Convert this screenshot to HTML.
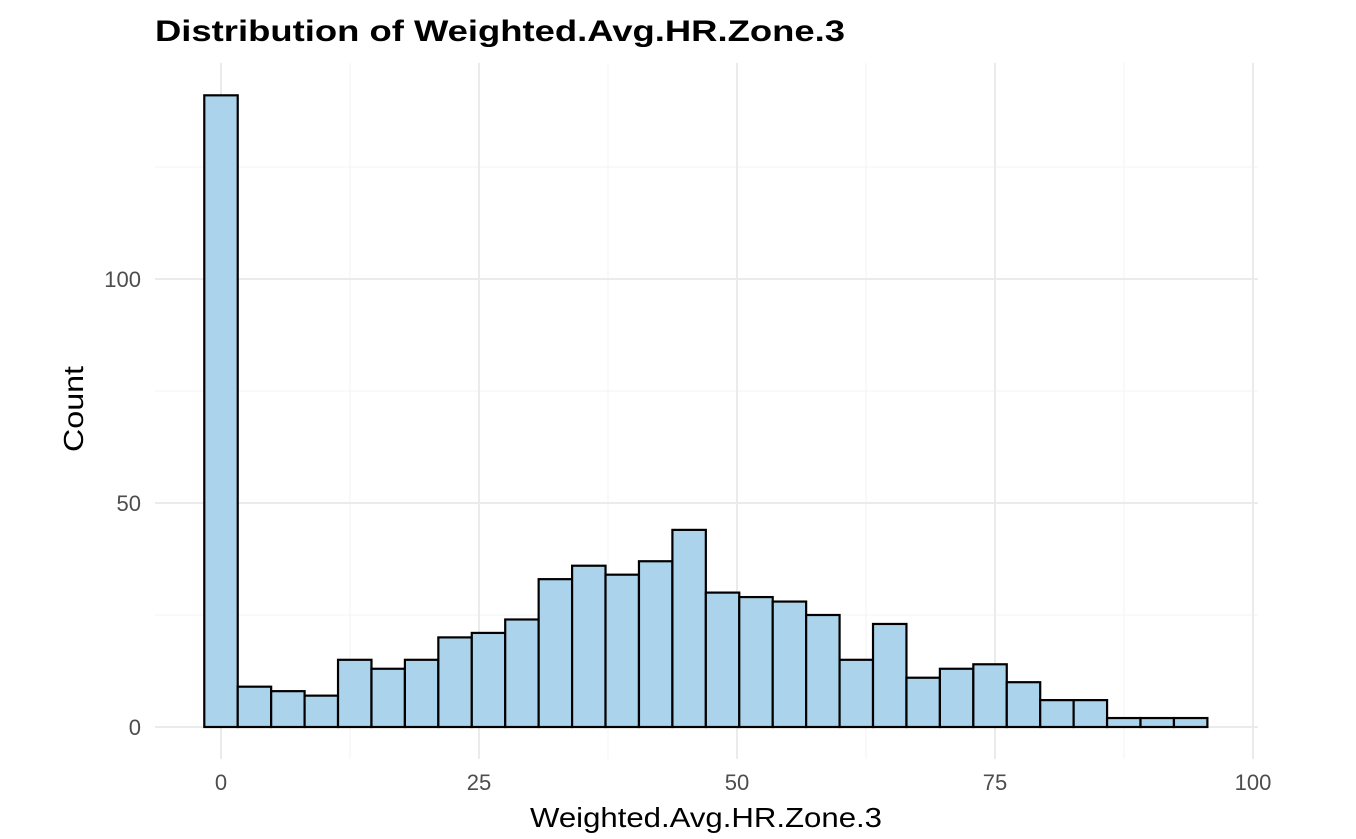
<!DOCTYPE html>
<html><head><meta charset="utf-8"><style>
body{margin:0;background:#fff;}
svg text{font-family:"Liberation Sans",Arial,sans-serif;}
</style></head><body>
<svg id="chart" width="1356" height="834">
<g id="grid"></g><g id="bars"></g><g id="axes"></g>
<text x="155" y="41" font-size="30" font-weight="bold" fill="#000" textLength="690" lengthAdjust="spacingAndGlyphs">Distribution of Weighted.Avg.HR.Zone.3</text>
<text x="530" y="827" font-size="28" fill="#000" textLength="352" lengthAdjust="spacingAndGlyphs">Weighted.Avg.HR.Zone.3</text>
<text transform="translate(83,452) rotate(-90)" font-size="28" fill="#000" textLength="86" lengthAdjust="spacingAndGlyphs">Count</text>
</svg>
<script>
const counts=[141,9,8,7,15,13,15,20,21,24,33,36,34,37,44,30,29,28,25,15,23,11,13,14,10,6,6,2,2,2];
const binStart=-1.62;
const binWidth=3.24;
const xTicks=[0,25,50,75,100];
const yTicks=[0,50,100];
const xMinor=[12.5,37.5,62.5,87.5];
const yMinor=[25,75,125];
const X=v=>221+v*10.32;
const Y=v=>727-v*4.48;
const NS="http://www.w3.org/2000/svg";
function mk(p,tag,a){const e=document.createElementNS(NS,tag);for(const k in a)e.setAttribute(k,a[k]);p.appendChild(e);return e;}
const grid=document.getElementById('grid'),bars=document.getElementById('bars'),axes=document.getElementById('axes');
const L=155,R=1258,T=63,B=759;
yMinor.forEach(v=>{const l=mk(grid,'line',{x1:L,x2:R,y1:Y(v),y2:Y(v),stroke:'#f3f3f3','stroke-width':1});

});
xMinor.forEach(v=>{const l=mk(grid,'line',{x1:X(v),x2:X(v),y1:T,y2:B,stroke:'#f3f3f3','stroke-width':1});

});
yTicks.forEach(v=>{const l=mk(grid,'line',{x1:L,x2:R,y1:Y(v),y2:Y(v),stroke:'#ebebeb','stroke-width':2});


const t=mk(axes,'text',{x:141,y:Y(v)+8,'font-size':22,'text-anchor':'end',fill:'#4d4d4d'});t.textContent=v;

});
xTicks.forEach(v=>{const l=mk(grid,'line',{x1:X(v),x2:X(v),y1:T,y2:B,stroke:'#ebebeb','stroke-width':2});


const t=mk(axes,'text',{x:X(v),y:790,'font-size':22,'text-anchor':'middle',fill:'#4d4d4d'});t.textContent=v;

});
counts.forEach((c,i)=>{const x0=X(binStart+i*binWidth),x1=X(binStart+(i+1)*binWidth);
const r=mk(bars,'rect',{x:x0,y:Y(c),width:x1-x0,height:Y(0)-Y(c),fill:'#abd3eb',stroke:'#000','stroke-width':2.2});

});
</script>
</body></html>
